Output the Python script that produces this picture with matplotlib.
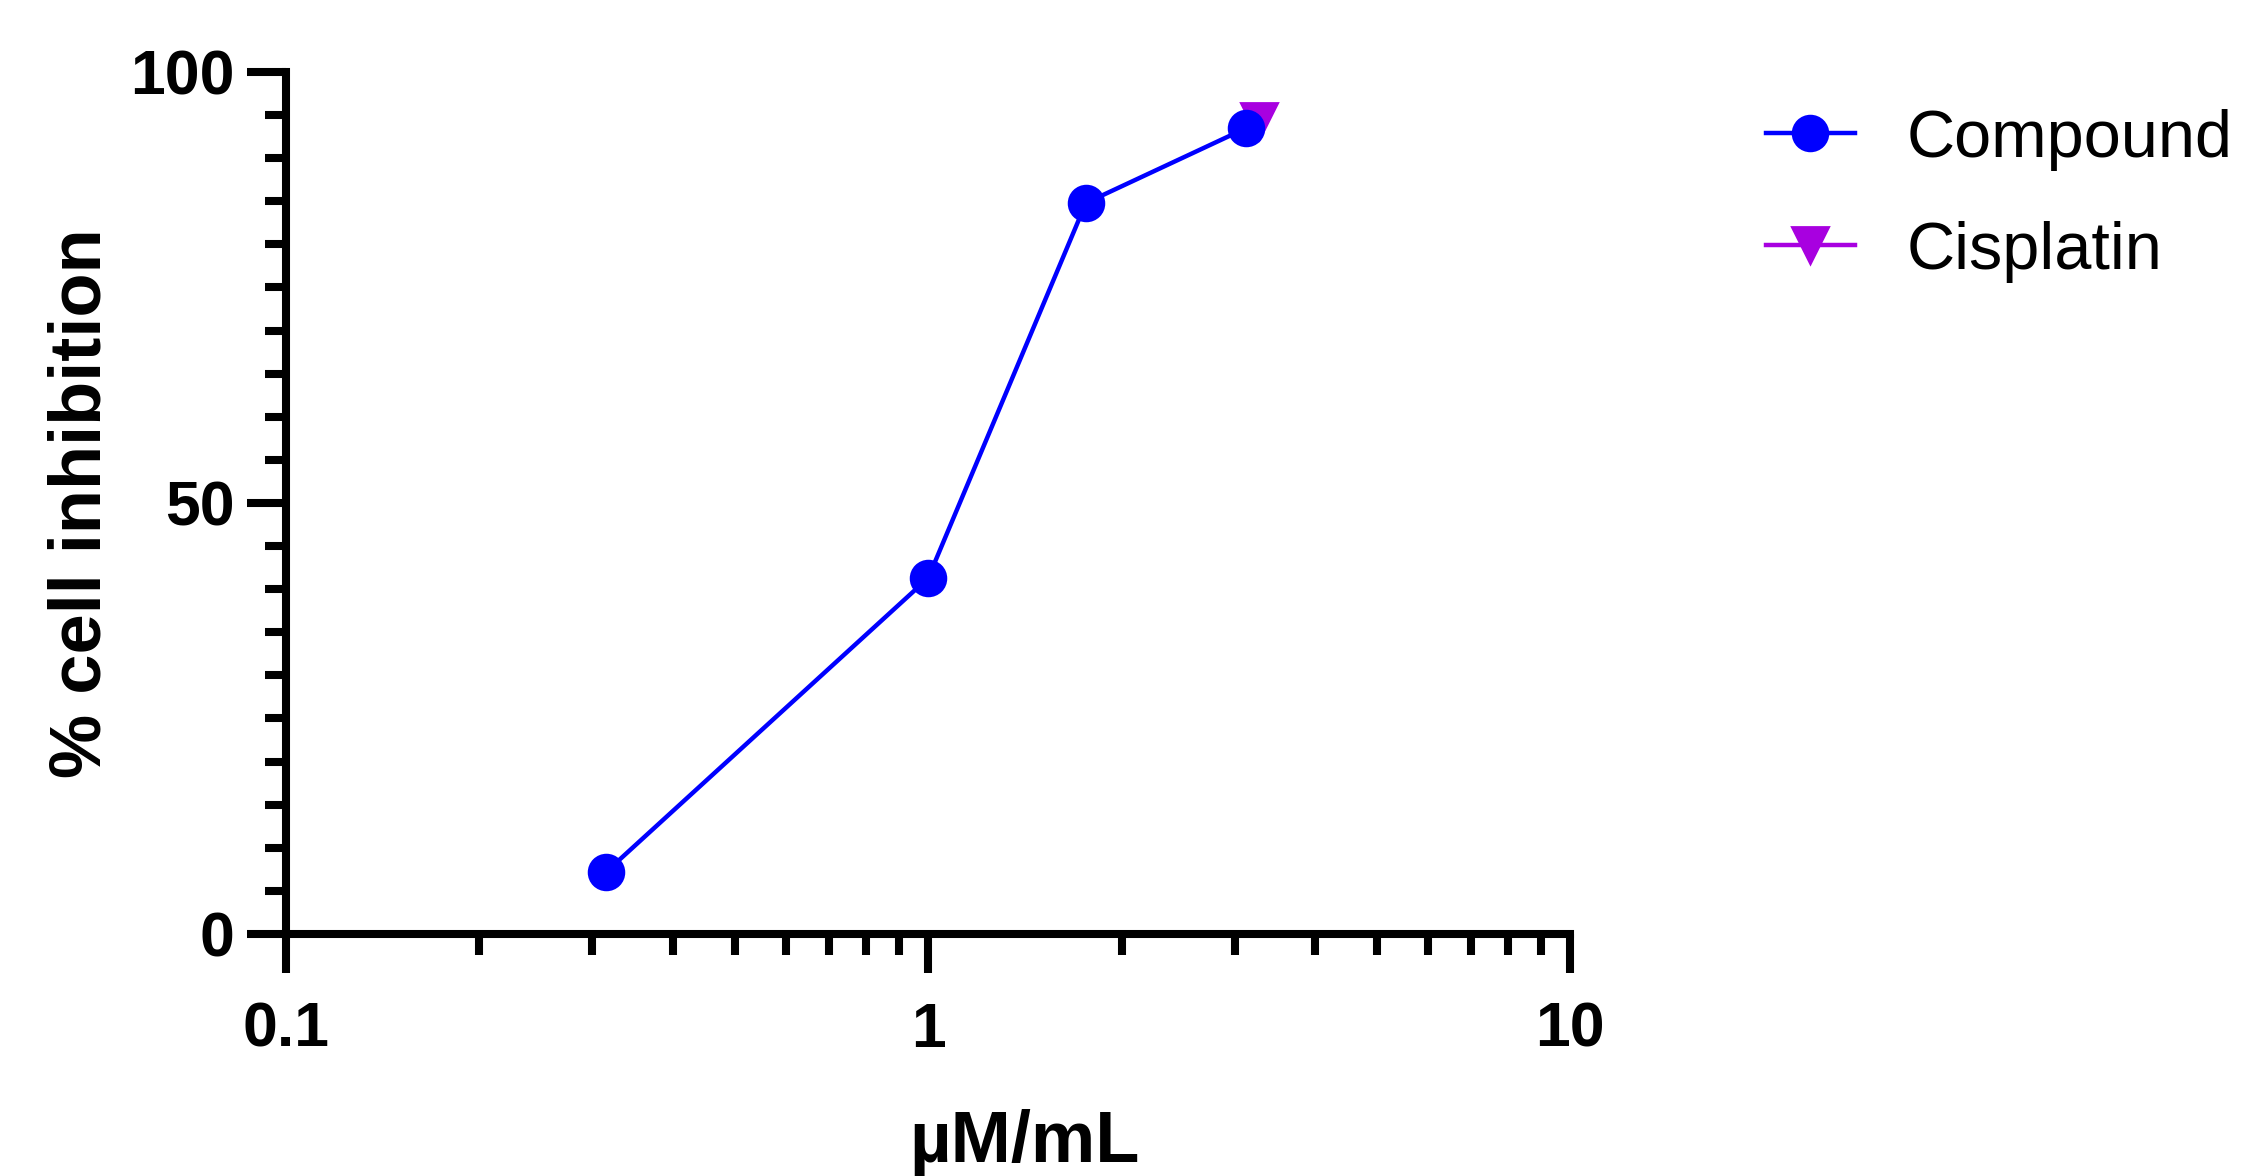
import matplotlib
matplotlib.use('Agg')
from matplotlib import pyplot as plt
from matplotlib.ticker import LogLocator, MultipleLocator, FixedLocator

# data
compound_x = [0.315, 1.0, 1.76, 3.13]
compound_y = [7.2, 41.3, 84.8, 93.5]
cisplatin_x = [3.28]
cisplatin_y = [94.3]
x_ticks = [0.1, 1, 10]
x_tick_labels = ['0.1', '1', '10']
y_ticks = [0, 50, 100]

plt.rcParams['font.family'] = ['Liberation Sans', 'DejaVu Sans']

fig = plt.figure(figsize=(11.265, 5.88), dpi=200)
ax = fig.add_axes([0.127, 0.2058, 0.570, 0.733])

ax.plot(compound_x, compound_y, c='#0000FF', linewidth=1.6, marker='o',
        markersize=12.5, label='Compound', clip_on=False, zorder=3)
ax.plot(cisplatin_x, cisplatin_y, c='#A800E0', linewidth=1.6, marker='v',
        markersize=13, label='Cisplatin', clip_on=False, zorder=2)

ax.set_xscale('log')
ax.set_xlim(0.1, 10)
ax.set_ylim(0, 100)

ax.xaxis.set_major_locator(FixedLocator(x_ticks))
ax.set_xticklabels(x_tick_labels)
ax.xaxis.set_minor_locator(LogLocator(base=10, subs=range(2, 10)))
ax.yaxis.set_major_locator(FixedLocator(y_ticks))
ax.yaxis.set_minor_locator(MultipleLocator(5))

for s in ['top', 'right']:
    ax.spines[s].set_visible(False)
for s in ['left', 'bottom']:
    ax.spines[s].set_linewidth(2.9)

ax.tick_params(which='major', length=14, width=2.9, labelsize=22.5)
ax.tick_params(which='minor', length=7.5, width=2.9)
ax.tick_params(axis='x', which='major', pad=10)
ax.tick_params(axis='y', which='major', pad=4.5)
for lab in ax.get_xticklabels() + ax.get_yticklabels():
    lab.set_fontweight('bold')

ax.set_ylabel('% cell inhibition', fontsize=26, fontweight='bold')
ax.yaxis.set_label_coords(-0.133, 0.5)
ax.set_xlabel('µM/mL', fontsize=26, fontweight='bold')
ax.xaxis.set_label_coords(0.575, -0.242)
ax.xaxis.label.set_va('center')

fig.legend(loc='upper left', bbox_to_anchor=(0.769, 0.936), frameon=False,
           fontsize=24, handlelength=1.33, handletextpad=0.78,
           labelspacing=0.75, borderpad=0)

fig.savefig('out.png', dpi=200)
